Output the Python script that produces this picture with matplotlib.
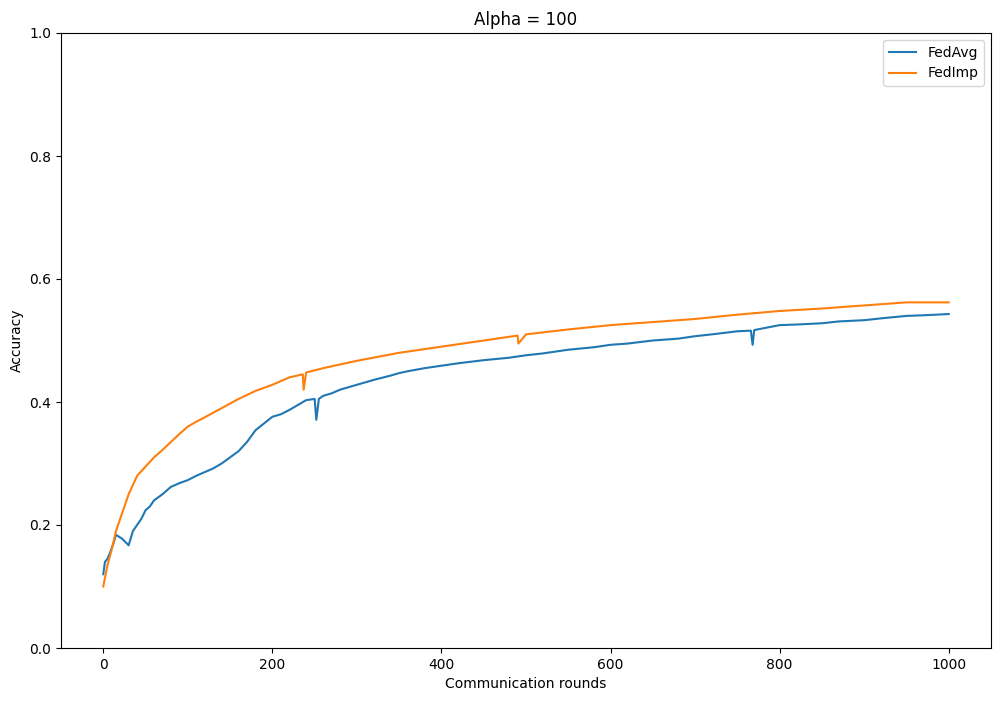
import matplotlib
matplotlib.use("Agg")
import matplotlib.pyplot as plt

avg_x = [0,2,5,8,12,15,22,30,35,40,45,50,55,60,70,80,90,100,110,120,130,140,150,160,170,180,190,200,210,220,230,240,250,252,255,260,270,280,290,300,320,340,350,360,380,400,420,450,480,500,520,550,580,600,620,650,680,700,720,750,766,768,770,800,820,850,870,900,920,950,970,1000]
avg_y = [0.12,0.14,0.145,0.155,0.17,0.184,0.178,0.167,0.19,0.2,0.21,0.224,0.23,0.24,0.25,0.262,0.268,0.273,0.28,0.286,0.292,0.30,0.31,0.32,0.335,0.354,0.365,0.376,0.38,0.387,0.395,0.403,0.405,0.371,0.405,0.41,0.414,0.42,0.424,0.428,0.436,0.443,0.447,0.45,0.455,0.459,0.463,0.468,0.472,0.476,0.479,0.485,0.489,0.493,0.495,0.50,0.503,0.507,0.51,0.515,0.516,0.493,0.517,0.525,0.526,0.528,0.531,0.533,0.536,0.54,0.541,0.543]
imp_x = [0,5,10,15,20,25,30,35,40,50,60,70,80,90,100,110,120,140,160,180,200,220,236,237,240,260,280,300,350,400,450,490,491,500,550,600,650,700,750,800,850,900,950,1000]
imp_y = [0.10,0.135,0.16,0.19,0.21,0.23,0.25,0.265,0.28,0.295,0.31,0.322,0.335,0.348,0.36,0.368,0.375,0.39,0.405,0.418,0.428,0.44,0.445,0.42,0.448,0.455,0.461,0.467,0.48,0.49,0.50,0.508,0.495,0.51,0.518,0.525,0.53,0.535,0.542,0.548,0.552,0.557,0.562,0.562]

fig = plt.figure(figsize=(10.01, 7.01), dpi=100)
ax = fig.add_axes([61/1001, 1-648/701, 930/1001, 615/701])
ax.plot(avg_x, avg_y, label="FedAvg")
ax.plot(imp_x, imp_y, label="FedImp")
ax.set_ylim(0, 1.0)
ax.set_xlabel("Communication rounds")
ax.set_ylabel("Accuracy")
ax.set_title("Alpha = 100")
ax.legend(loc="upper right")
fig.savefig("out.png", dpi=100)
